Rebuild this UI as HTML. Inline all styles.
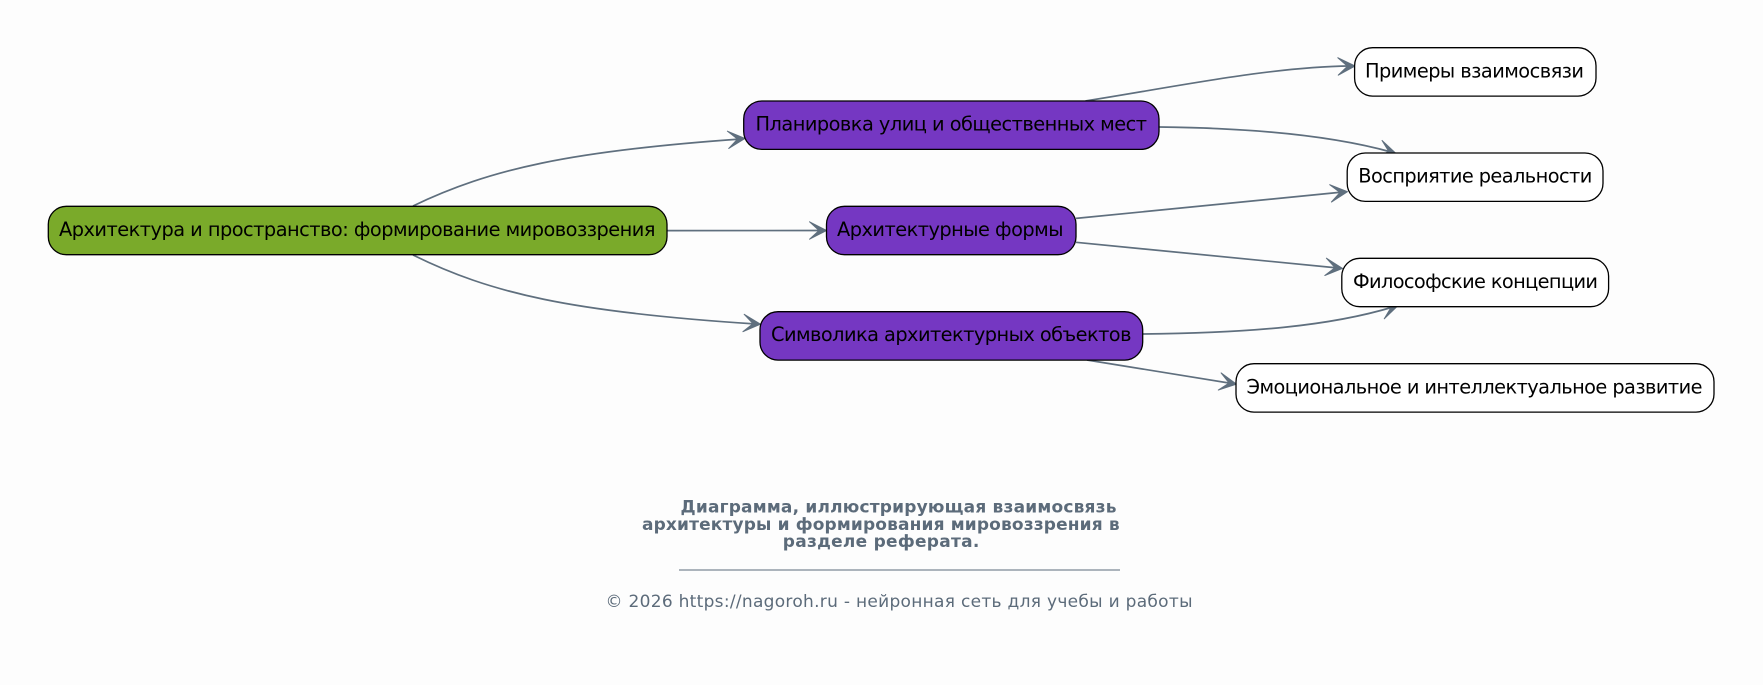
<!DOCTYPE html>
<html><head><meta charset="utf-8"><style>
html,body{margin:0;padding:0;background:#fdfdfd;width:1763px;height:685px;overflow:hidden}
svg{display:block}
text{font-family:"DejaVu Sans","Liberation Sans",sans-serif}
.n{font-size:19.35px;fill:#000}
.t{font-size:17px;font-weight:bold;fill:#5c6b7a}
.c{font-size:17px;fill:#5c6b7a}
.e{fill:none;stroke:#5f6f7e;stroke-width:1.7}
.a{fill:#5f6f7e;stroke:#5f6f7e;stroke-width:1;stroke-linejoin:round}
.b{stroke:#000;stroke-width:1.3}
</style></head><body>
<svg width="1763" height="685" viewBox="0 0 1763 685" xmlns="http://www.w3.org/2000/svg">
<defs><path id="h" d="M0 0L-17 -8.7L-7.5 0L-17 8.7Z"/></defs>
<rect width="1763" height="685" fill="#fdfdfd"/>

<path class="e" d="M413 206C490 169 570 151 741 139"/>
<use href="#h" class="a" transform="translate(745,138.5) rotate(-4.5)"/>
<path class="e" d="M667 230.6L822 230.5"/>
<use href="#h" class="a" transform="translate(826.5,230.5)"/>
<path class="e" d="M413 255C490 293 570 312 756 324"/>
<use href="#h" class="a" transform="translate(760.5,324.2) rotate(4)"/>
<path class="e" d="M1085.5 101C1180 86 1270 67 1350 66"/>
<use href="#h" class="a" transform="translate(1355,66) rotate(-1.5)"/>
<path class="e" d="M1159 127C1250 128 1330 135 1391 152"/>
<use href="#h" class="a" transform="translate(1396,153.5) rotate(16)"/>
<path class="e" d="M1076 218.4L1343 192"/>
<use href="#h" class="a" transform="translate(1347.5,191.7) rotate(-5.6)"/>
<path class="e" d="M1076 242.3L1338 268"/>
<use href="#h" class="a" transform="translate(1342.5,268.4) rotate(5.3)"/>
<path class="e" d="M1143 334C1250 333 1330 326 1393 307"/>
<use href="#h" class="a" transform="translate(1398,305.5) rotate(-17)"/>
<path class="e" d="M1087 360L1232 383.5"/>
<use href="#h" class="a" transform="translate(1236.5,384.2) rotate(9.2)"/>

<rect class="b" x="48.3" y="206.3" width="618.7" height="48.4" rx="18" fill="#7aaa2a"/>
<rect class="b" x="743.7" y="101" width="415.3" height="48.4" rx="18" fill="#7537c2"/>
<rect class="b" x="826.5" y="206.3" width="249.5" height="48.4" rx="18" fill="#7537c2"/>
<rect class="b" x="760" y="311.7" width="382.7" height="48.4" rx="18" fill="#7537c2"/>
<rect class="b" x="1354.6" y="47.7" width="241.4" height="48.4" rx="18" fill="#fff"/>
<rect class="b" x="1347.2" y="153" width="255.8" height="48.4" rx="18" fill="#fff"/>
<rect class="b" x="1341.8" y="258.3" width="266.8" height="48.4" rx="18" fill="#fff"/>
<rect class="b" x="1236" y="363.7" width="478" height="48.4" rx="18" fill="#fff"/>

<text class="n" x="59" y="236" textLength="596.5">Архитектура и пространство: формирование мировоззрения</text>
<text class="n" x="755.5" y="130.5" textLength="391.5">Планировка улиц и общественных мест</text>
<text class="n" x="837" y="236" textLength="226.5">Архитектурные формы</text>
<text class="n" x="771" y="341" textLength="360.5">Символика архитектурных объектов</text>
<text class="n" x="1365" y="77.3" textLength="219">Примеры взаимосвязи</text>
<text class="n" x="1358.3" y="182.5" textLength="234">Восприятие реальности</text>
<text class="n" x="1353" y="288" textLength="245">Философские концепции</text>
<text class="n" x="1246.5" y="393.3" textLength="456">Эмоциональное и интеллектуальное развитие</text>

<text class="t" x="680.5" y="512.3" textLength="436">Диаграмма, иллюстрирующая взаимосвязь</text>
<text class="t" x="642" y="530" textLength="477.6">архитектуры и формирования мировоззрения в</text>
<text class="t" x="782.8" y="547" textLength="196.5">разделе реферата.</text>
<line x1="679" y1="570" x2="1120" y2="570" stroke="#5c6b7a" stroke-width="1"/>
<text class="c" x="605.5" y="606.8" textLength="587">© 2026 https://nagoroh.ru - нейронная сеть для учебы и работы</text>
</svg>
</body></html>
